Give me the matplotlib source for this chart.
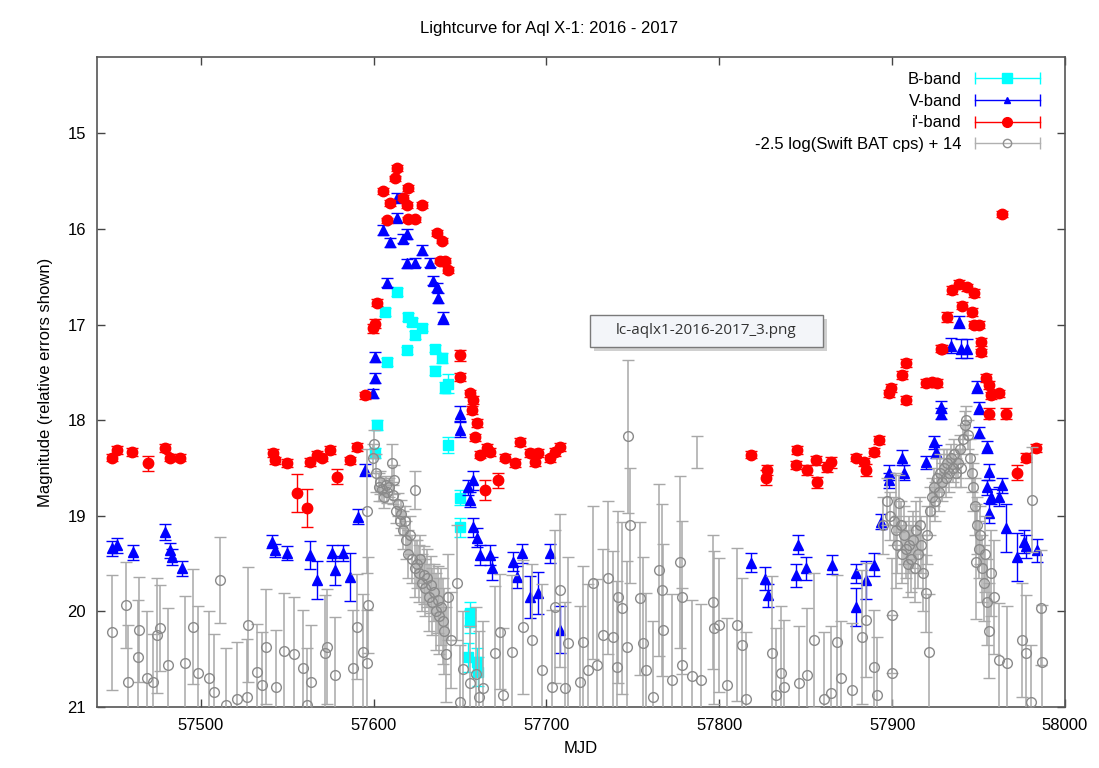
import matplotlib
matplotlib.use("Agg")
import matplotlib.pyplot as plt
from matplotlib.lines import Line2D
from matplotlib.legend_handler import HandlerBase
from matplotlib.patches import Rectangle
import numpy as np

plt.rcParams['font.family'] = ['Liberation Sans', 'DejaVu Sans']

title = "Lightcurve for Aql X-1: 2016 - 2017"
xlabel = "MJD"
ylabel = "Magnitude (relative errors shown)"
xticks = [57500, 57600, 57700, 57800, 57900, 58000]
yticks = [15, 16, 17, 18, 19, 20, 21]
legend_labels = ["B-band", "V-band", "i'-band", "-2.5 log(Swift BAT cps) + 14"]
tooltip_text = "lc-aqlx1-2016-2017_3.png"

# ---------------- B-band ----------------
b_mjd = [57600.7, 57601.8, 57606.5, 57607.6, 57613.4, 57619.2, 57619.8, 57622.1, 57623.8,
         57627.9, 57635.4, 57635.4, 57639.4, 57641.2, 57642.9, 57642.9, 57649.8, 57649.8,
         57654.5, 57655.6, 57655.6, 57659.7, 57660.2]
b_mag = [18.34, 18.05, 16.87, 17.39, 16.66, 17.27, 16.92, 16.97, 17.11,
         17.03, 17.25, 17.48, 17.35, 17.66, 17.62, 18.26, 18.81, 19.12,
         20.48, 20.02, 20.11, 20.53, 20.63]
b_err = [0.05, 0.05, 0.04, 0.04, 0.04, 0.04, 0.04, 0.04, 0.04,
         0.04, 0.04, 0.05, 0.05, 0.06, 0.1, 0.08, 0.08, 0.1,
         0.15, 0.12, 0.12, 0.15, 0.15]

# ---------------- V-band ----------------
v_mjd = [57448.7, 57451.6, 57460.8, 57479.3, 57482.2, 57483.4, 57489.1,
         57541.2, 57542.9, 57549.8, 57563.1, 57567.2, 57575.8, 57577.6, 57582.2, 57586.2, 57590.9,
         57594.9, 57599.5, 57600.7, 57600.7, 57605.3, 57607.6, 57609.4, 57613.4, 57613.4, 57616.9,
         57619.2, 57619.2, 57623.8, 57627.9, 57632.5, 57634.2, 57636.5, 57637.1, 57640.0,
         57649.8, 57649.8, 57654.5, 57655.6, 57657.3, 57657.3, 57659.7, 57661.4,
         57667.2, 57668.3, 57680.5, 57682.8, 57685.7, 57690.3, 57694.9, 57701.8, 57707.6,
         57818.6, 57826.7, 57828.4, 57844.6, 57845.8, 57850.4, 57865.4, 57879.3, 57879.3,
         57885.1, 57889.7, 57893.8, 57898.4, 57898.4, 57905.9, 57907.0, 57919.8, 57924.4,
         57925.6, 57928.4, 57928.4, 57934.2, 57938.8, 57940.0, 57943.5, 57949.2, 57950.4,
         57950.4, 57955.0, 57956.2, 57955.0, 57957.3, 57963.7, 57962.0, 57956.2, 57966.0,
         57972.4, 57976.4, 57977.6, 57984.0]
v_mag = [19.34, 19.31, 19.38, 19.17, 19.36, 19.43, 19.55,
         19.27, 19.36, 19.39, 19.41, 19.67, 19.39, 19.57, 19.39, 19.64, 19.01,
         18.52, 17.72, 17.34, 17.56, 16.01, 16.56, 16.14, 15.67, 15.88, 16.10,
         16.36, 16.05, 16.35, 16.22, 16.35, 16.54, 16.61, 16.72, 16.93,
         17.93, 18.10, 18.70, 18.83, 18.63, 19.12, 19.23, 19.41,
         19.41, 19.55, 19.48, 19.64, 19.39, 19.85, 19.81, 19.39, 20.19,
         19.49, 19.66, 19.83, 19.62, 19.30, 19.55, 19.51, 19.95, 19.60,
         19.67, 19.51, 19.06, 18.63, 18.55, 18.39, 18.55, 18.44, 18.23,
         18.33, 17.86, 17.93, 17.22, 16.97, 17.25, 17.25, 17.65, 17.87,
         18.13, 18.28, 18.54, 18.70, 18.80, 18.68, 18.80, 18.97, 19.13,
         19.43, 19.27, 19.32, 19.36]
v_err = [0.08, 0.08, 0.08, 0.08, 0.08, 0.08, 0.08,
         0.07, 0.07, 0.07, 0.15, 0.2, 0.08, 0.15, 0.08, 0.25, 0.08,
         0.06, 0.05, 0.05, 0.05, 0.05, 0.05, 0.05, 0.05, 0.05, 0.05,
         0.05, 0.05, 0.05, 0.05, 0.05, 0.05, 0.05, 0.05, 0.06,
         0.08, 0.08, 0.08, 0.08, 0.1, 0.1, 0.1, 0.1,
         0.1, 0.12, 0.1, 0.12, 0.1, 0.22, 0.22, 0.1, 0.25,
         0.1, 0.12, 0.12, 0.12, 0.1, 0.12, 0.1, 0.2, 0.1,
         0.2, 0.12, 0.08, 0.08, 0.08, 0.08, 0.08, 0.07, 0.07,
         0.07, 0.06, 0.06, 0.08, 0.06, 0.1, 0.1, 0.06, 0.06,
         0.06, 0.06, 0.08, 0.08, 0.08, 0.08, 0.1, 0.1, 0.25,
         0.25, 0.12, 0.12, 0.12]

# ---------------- i'-band ----------------
i_mjd = [57448.7, 57451.6, 57460.2, 57469.5, 57479.3, 57482.2, 57488.0,
         57541.7, 57542.9, 57549.8, 57555.6, 57561.4, 57563.1, 57567.2, 57570.1, 57574.7,
         57578.7, 57586.2, 57590.3, 57594.9, 57599.5, 57600.7, 57601.8,
         57605.3, 57607.6, 57609.4, 57612.3, 57613.4, 57616.9, 57619.2, 57619.8, 57619.8,
         57623.8, 57627.9, 57636.5, 57639.4, 57638.3, 57641.2, 57642.9,
         57649.8, 57649.8, 57655.6, 57657.3, 57656.8, 57659.7, 57658.5, 57661.4, 57665.4,
         57664.3, 57667.2, 57671.8, 57675.8, 57681.6, 57684.5, 57690.3, 57693.2, 57694.9,
         57701.8, 57704.7, 57707.6,
         57818.6, 57827.3, 57827.9, 57845.2, 57844.6, 57851.0, 57856.2, 57856.8, 57862.5,
         57864.9, 57879.3, 57883.9, 57885.1, 57889.7, 57892.6, 57898.4, 57899.5, 57908.2,
         57905.9, 57908.2, 57919.8, 57923.2, 57926.1, 57929.0, 57931.9, 57934.8, 57938.8,
         57943.5, 57947.5, 57940.6, 57946.4, 57947.5, 57950.4, 57951.6, 57951.6, 57928.4,
         57954.5, 57956.2, 57957.3, 57962.0, 57956.2, 57966.0, 57963.7, 57972.4, 57977.6,
         57983.4]
i_mag = [18.39, 18.31, 18.33, 18.45, 18.29, 18.39, 18.39,
         18.34, 18.42, 18.45, 18.76, 18.92, 18.44, 18.36, 18.39, 18.31,
         18.59, 18.42, 18.28, 17.74, 17.04, 16.99, 16.77,
         15.60, 15.91, 15.73, 15.47, 15.36, 15.67, 15.75, 15.57, 15.90,
         15.90, 15.75, 16.04, 16.12, 16.33, 16.33, 16.43,
         17.32, 17.55, 17.72, 17.79, 17.89, 18.03, 18.18, 18.36, 18.29,
         18.73, 18.33, 18.63, 18.39, 18.45, 18.23, 18.34, 18.44, 18.34,
         18.40, 18.33, 18.28,
         18.36, 18.60, 18.52, 18.31, 18.47, 18.52, 18.42, 18.65, 18.49,
         18.44, 18.39, 18.44, 18.52, 18.33, 18.21, 17.72, 17.66, 17.79,
         17.53, 17.40, 17.61, 17.60, 17.61, 17.25, 16.92, 16.64, 16.57,
         16.61, 16.67, 16.80, 16.87, 17.00, 17.00, 17.18, 17.29, 17.25,
         17.56, 17.63, 17.74, 17.72, 17.93, 17.93, 15.84, 18.55, 18.39,
         18.29]
i_err = [0.04, 0.04, 0.04, 0.08, 0.04, 0.04, 0.04,
         0.04, 0.04, 0.04, 0.2, 0.2, 0.04, 0.04, 0.04, 0.04,
         0.08, 0.04, 0.04, 0.04, 0.05, 0.05, 0.04,
         0.03, 0.03, 0.03, 0.03, 0.03, 0.03, 0.03, 0.03, 0.03,
         0.03, 0.03, 0.03, 0.03, 0.03, 0.03, 0.03,
         0.06, 0.04, 0.04, 0.04, 0.04, 0.04, 0.04, 0.04, 0.04,
         0.1, 0.04, 0.08, 0.04, 0.04, 0.04, 0.04, 0.04, 0.04,
         0.04, 0.04, 0.04,
         0.04, 0.08, 0.05, 0.04, 0.04, 0.05, 0.05, 0.06, 0.05,
         0.06, 0.04, 0.04, 0.06, 0.04, 0.04, 0.04, 0.04, 0.04,
         0.04, 0.04, 0.04, 0.04, 0.04, 0.04, 0.05, 0.04, 0.04,
         0.04, 0.04, 0.04, 0.04, 0.04, 0.04, 0.04, 0.04, 0.04,
         0.04, 0.04, 0.04, 0.04, 0.06, 0.06, 0.03, 0.08, 0.05,
         0.04]

# ---------------- Swift BAT ----------------
bat_mjd = [57448.7, 57456.8, 57457.9, 57463.7, 57464.3, 57468.9, 57472.4, 57474.7, 57476.4,
           57481.0, 57490.9, 57495.5, 57498.4, 57504.7, 57507.6, 57511.1, 57514.6, 57520.9,
           57526.7, 57527.3, 57532.5, 57535.4, 57537.7, 57543.5, 57548.1, 57553.9, 57559.1,
           57561.4, 57563.7, 57571.8, 57572.9, 57577.6, 57588.0, 57590.3, 57593.8, 57596.1,
           57596.6, 57596.0,
           57599.5, 57600.5, 57601.5, 57603.0, 57604.0, 57605.0, 57606.0, 57607.0, 57608.0,
           57609.0, 57610.5, 57611.0, 57612.0, 57613.0, 57614.0, 57615.0, 57616.0, 57617.0,
           57618.0, 57619.0, 57620.0, 57621.0, 57622.0, 57623.8, 57624.0, 57625.0, 57626.0,
           57627.0, 57628.0, 57629.0, 57630.0, 57631.0, 57632.0, 57633.0, 57634.0, 57635.0,
           57636.0, 57637.0, 57638.0, 57639.0, 57640.0, 57641.0, 57642.0, 57643.0, 57645.0,
           57648.0, 57650.0, 57652.0, 57656.0, 57659.0, 57661.0,
           57663.1, 57670.0, 57673.0, 57674.7, 57680.0, 57686.2, 57691.4, 57697.2, 57703.0,
           57704.7, 57707.6, 57710.5, 57712.3, 57719.2, 57721.0, 57723.8, 57726.7, 57729.0,
           57732.5, 57735.4, 57738.3, 57740.6, 57741.2, 57744.0, 57746.4, 57747.0, 57748.1,
           57753.9, 57755.6, 57757.9, 57761.4, 57765.4, 57766.6, 57767.2, 57772.4, 57777.0,
           57778.2, 57778.7, 57784.5, 57789.7, 57796.1, 57797.2, 57800.1, 57804.7, 57810.5,
           57813.4, 57815.7, 57830.8, 57833.1,
           57836.0, 57837.7, 57846.4, 57851.0, 57855.0, 57860.8, 57864.9, 57868.3, 57870.6,
           57877.0, 57882.8, 57885.1, 57889.7, 57891.0, 57900.1, 57900.1,
           57895.0, 57897.0, 57899.0, 57901.0, 57902.4, 57903.0, 57904.1, 57905.0, 57906.0,
           57907.0, 57908.0, 57909.0, 57910.0, 57911.0, 57912.0, 57913.0, 57914.0, 57915.0,
           57916.0, 57917.0, 57918.0, 57919.8, 57920.0, 57921.5, 57922.0, 57923.0, 57924.0,
           57925.0, 57926.0, 57927.0, 57928.0, 57929.0, 57930.0, 57931.0, 57932.0, 57933.0,
           57934.0, 57935.0, 57936.0, 57937.0, 57938.0, 57939.0, 57940.0, 57941.0, 57942.0,
           57943.0, 57944.0, 57945.0, 57946.0, 57947.0, 57948.0, 57948.7, 57949.0, 57950.0,
           57951.0, 57952.0, 57953.0, 57954.0, 57955.0, 57956.0, 57957.0,
           57959.1, 57962.0, 57966.6, 57975.3, 57977.6, 57980.5, 57981.0, 57986.2, 57986.8]
bat_mag = [20.22, 19.93, 20.74, 20.48, 20.19, 20.70, 20.74, 20.25, 20.17,
           20.56, 20.54, 20.16, 20.64, 20.70, 20.84, 19.67, 20.98, 20.92,
           20.89, 20.14, 20.63, 20.77, 20.37, 20.79, 20.41, 20.45, 20.59,
           20.98, 20.74, 20.43, 20.37, 20.66, 20.59, 20.16, 20.42, 20.54,
           19.93, 18.95,
           18.40, 18.25, 18.55, 18.70, 18.65, 18.72, 18.80, 18.68, 18.75,
           18.70, 18.45, 18.78, 18.62, 18.95, 18.88, 19.05, 18.98, 19.15,
           19.05, 19.25, 19.40, 19.20, 19.45, 18.73, 19.55, 19.50, 19.60,
           19.45, 19.70, 19.62, 19.75, 19.65, 19.85, 19.72, 19.90, 19.80,
           20.00, 19.88, 20.05, 19.95, 20.10, 20.20, 20.45, 19.85, 20.30,
           19.70, 20.95, 20.60, 20.75, 20.65, 20.90,
           20.80, 20.43, 20.21, 20.87, 20.42, 20.16, 20.30, 20.61, 20.79,
           19.95, 19.78, 20.80, 20.33, 20.74, 20.32, 20.61, 19.70, 20.56,
           20.25, 19.65, 20.27, 20.58, 19.85, 19.96, 20.37, 18.17, 19.10,
           19.86, 20.33, 20.61, 20.90, 19.57, 19.78, 20.19, 20.72, 19.48,
           20.56, 19.85, 20.68, 20.72, 19.90, 20.17, 20.14, 20.77, 20.14,
           20.35, 20.92, 20.43, 20.87,
           20.64, 20.79, 20.75, 20.66, 20.30, 20.92, 20.85, 20.32, 20.70,
           20.82, 20.27, 20.09, 20.58, 20.87, 20.64, 20.04,
           19.10, 18.85, 19.00, 19.05, 19.15, 19.30, 18.87, 19.10, 19.40,
           19.20, 19.35, 19.50, 19.30, 19.45, 19.25, 19.55, 19.15, 19.40,
           19.10, 19.30, 19.60, 19.81, 19.20, 20.42, 18.95, 18.80, 18.70,
           18.85, 18.60, 18.75, 18.55, 18.65, 18.50, 18.60, 18.45, 18.55,
           18.40, 18.50, 18.35, 18.55, 18.45, 18.30, 18.50, 18.20, 18.05,
           18.00, 18.15, 18.40, 18.55, 18.70, 18.90, 19.48, 19.10, 19.35,
           19.20, 19.55, 19.70, 19.40, 19.90, 20.20, 19.60,
           19.85, 20.51, 20.54, 20.30, 20.43, 20.95, 18.83, 19.96, 20.53]
bat_err = [0.6, 0.45, 0.6, 0.6, 0.55, 0.7, 0.5, 0.6, 0.45,
           0.6, 0.7, 0.6, 0.7, 0.7, 0.6, 0.45, 0.6, 0.6,
           0.6, 0.6, 0.5, 0.55, 0.6, 0.6, 0.6, 0.6, 0.6,
           0.6, 0.6, 0.6, 0.6, 0.6, 0.6, 0.55, 0.6, 0.55,
           0.5, 0.65,
           0.15, 0.15, 0.2, 0.15, 0.12, 0.12, 0.12, 0.1, 0.12,
           0.1, 0.2, 0.1, 0.15, 0.12, 0.12, 0.15, 0.15, 0.2,
           0.15, 0.2, 0.25, 0.2, 0.25, 0.2, 0.3, 0.25, 0.3,
           0.25, 0.3, 0.3, 0.3, 0.3, 0.35, 0.3, 0.35, 0.3,
           0.4, 0.35, 0.4, 0.4, 0.45, 0.45, 0.5, 0.45, 0.5,
           0.6, 0.6, 0.6, 0.6, 0.7, 0.7,
           0.7, 0.7, 0.6, 0.7, 0.8, 0.7, 0.8, 0.9, 0.8,
           0.8, 0.8, 0.9, 0.9, 0.8, 0.8, 0.9, 0.8, 0.9,
           0.9, 0.8, 0.9, 0.9, 0.9, 0.9, 0.9, 0.8, 0.6,
           0.8, 0.9, 0.8, 0.8, 0.9, 0.9, 0.9, 0.9, 0.9,
           0.8, 0.8, 0.8, 0.8, 0.7, 0.8, 0.7, 0.7, 0.8,
           0.7, 0.7, 0.8, 0.7,
           0.7, 0.7, 0.6, 0.7, 0.7, 0.7, 0.7, 0.7, 0.6,
           0.7, 0.7, 0.6, 0.6, 0.6, 0.6, 0.6,
           0.3, 0.25, 0.25, 0.25, 0.6, 0.3, 0.3, 0.25, 0.3,
           0.3, 0.3, 0.35, 0.3, 0.35, 0.3, 0.35, 0.3, 0.35,
           0.3, 0.3, 0.4, 0.4, 0.3, 0.6, 0.25, 0.2, 0.2,
           0.2, 0.2, 0.2, 0.2, 0.2, 0.2, 0.2, 0.15, 0.2,
           0.15, 0.15, 0.15, 0.15, 0.15, 0.15, 0.2, 0.15, 0.15,
           0.15, 0.15, 0.2, 0.2, 0.25, 0.3, 0.6, 0.3, 0.3,
           0.3, 0.35, 0.4, 0.4, 0.45, 0.5, 0.45,
           0.6, 0.6, 0.6, 0.6, 0.6, 0.6, 0.55, 0.6, 0.6]

# lone BAT error bar (marker not visible)
bat_lone_mjd = [57787.4]
bat_lone_mag = [18.33]
bat_lone_err = [0.17]

cB, cV, cI, cG = '#00ffff', '#0000ff', '#ff0000', '#9a9a9a'

W, H = 1099, 768
fig = plt.figure(figsize=(10.99, 7.68), dpi=100)
ax = fig.add_axes([0.0883, 0.0794, 0.969 - 0.0883, 0.9258 - 0.0794])

ax.errorbar(b_mjd, b_mag, yerr=b_err, fmt='s', color=cB, ms=6.5, mec=cB,
            elinewidth=1, capsize=4, capthick=1, zorder=2)
ax.errorbar(v_mjd, v_mag, yerr=v_err, fmt='^', color=cV, ms=6.5, mec=cV,
            elinewidth=1, capsize=4, capthick=1, zorder=3)
ax.errorbar(i_mjd, i_mag, yerr=i_err, fmt='o', color=cI, ms=7.5, mec=cI,
            elinewidth=1, capsize=4, capthick=1, zorder=4)
ax.errorbar(bat_mjd, bat_mag, yerr=bat_err, fmt='o', color=cG, ms=7, mfc='none',
            mec='#8a8a8a', mew=1, elinewidth=1.1, ecolor='#a8a8a8', capsize=4.5,
            capthick=1, zorder=5)
ax.errorbar(bat_lone_mjd, bat_lone_mag, yerr=bat_lone_err, fmt='none',
            ecolor='#a8a8a8', elinewidth=1.1, capsize=4.5, capthick=1, zorder=5)

ax.set_xlim(57440, 58000)
ax.set_ylim(21, 14.2)
ax.set_xticks(xticks)
ax.set_yticks(yticks)
ax.tick_params(direction='in', top=True, right=True, length=6, width=1,
               labelsize=12, pad=8, color='#444444')
for s in ax.spines.values():
    s.set_color('#555555')
    s.set_linewidth(1.2)

ax.set_xlabel(xlabel, fontsize=12, labelpad=6)
ax.set_ylabel(ylabel, fontsize=12, labelpad=10)
fig.text(0.5, 1 - 28 / H, title, ha='center', va='center', fontsize=12)


class ErrHandler(HandlerBase):
    def create_artists(self, legend, orig, xdescent, ydescent, width, height,
                       fontsize, trans):
        c = orig.get_color()
        y = height / 2 - ydescent
        x0, x1 = -xdescent, width - xdescent
        line = Line2D([x0, x1], [y, y], color=c, lw=1)
        caps = Line2D([x0, x1], [y, y], ls='none', marker='|', ms=8, mew=1, color=c)
        mk = Line2D([(x0 + x1) / 2], [y], ls='none', marker=orig.get_marker(),
                    ms=orig.get_markersize(), mfc=orig.get_markerfacecolor(),
                    mec=orig.get_markeredgecolor())
        for a in (line, caps, mk):
            a.set_transform(trans)
        return [line, caps, mk]


handles = [
    Line2D([], [], color=cB, marker='s', ms=6.5, mfc=cB, mec=cB),
    Line2D([], [], color=cV, marker='^', ms=5, mfc=cV, mec=cV),
    Line2D([], [], color=cI, marker='o', ms=7, mfc=cI, mec=cI),
    Line2D([], [], color='#b0b0b0', marker='o', ms=6, mfc='none', mec='#909090'),
]
leg = ax.legend(handles, legend_labels, loc='upper right', markerfirst=False,
                frameon=False, fontsize=12, handlelength=3.9, handletextpad=0.8,
                labelspacing=0.4, borderaxespad=0.0,
                bbox_to_anchor=(0.981, 0.987),
                handler_map={Line2D: ErrHandler()})

# tooltip box from the screenshot
fig.patches.append(Rectangle((594 / W, 1 - 351 / H), 233 / W, 32 / H,
                             transform=fig.transFigure, facecolor='#bdbdbd',
                             edgecolor='none', alpha=0.7, zorder=9))
fig.patches.append(Rectangle((590 / W, 1 - 347 / H), 233 / W, 32 / H,
                             transform=fig.transFigure, facecolor='#f3f5f9',
                             edgecolor='#7a7a7a', linewidth=1, zorder=10))
fig.text(706 / W, 1 - 331 / H, tooltip_text, ha='center', va='center',
         fontsize=11, family=['Open Sans', 'DejaVu Sans'], color='#333333', zorder=11)

fig.savefig('out.png', dpi=100)
